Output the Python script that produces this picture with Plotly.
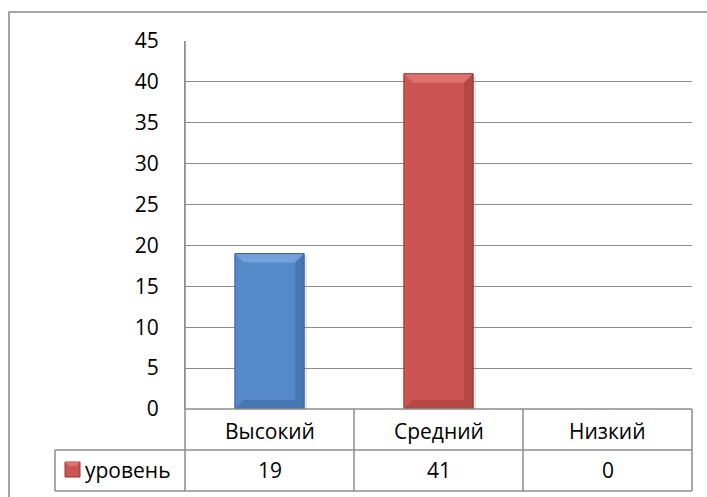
import plotly.graph_objects as go

categories = ["Высокий", "Средний", "Низкий"]
values = [19, 41, 0]
series_name = "уровень"
y_ticks = [0, 5, 10, 15, 20, 25, 30, 35, 40, 45]

W, H = 707, 497
L, R, T, B = 185, 692, 41, 409  # plot area in pixels
PW, PH = R - L, B - T

def px(xp):
    return (xp - L) / PW

def py(yp):
    return (B - yp) / PH

FONT = "Open Sans"
FS = 21
GRID = "#8C8C8C"
face = ["#5589C9", "#CC5553", "#9BBB59"]
light = ["#72A1DB", "#DC736F", "#B5D27A"]
dark = ["#4473AE", "#AE4340", "#7E9B45"]
darker = ["#385F92", "#913432", "#66803A"]

bar_w = 0.41
xs = list(range(len(categories)))

fig = go.Figure()
fig.add_trace(go.Bar(
    x=xs, y=values, width=bar_w, name=series_name,
    marker=dict(color=face[:len(values)], line=dict(width=0)),
    showlegend=False, hoverinfo="skip",
))

shapes = []
bx = 9 * 3 / PW
by = 9 * 45 / PH
for i, v in enumerate(values):
    if v <= 0:
        continue
    x0, x1 = xs[i] - bar_w / 2, xs[i] + bar_w / 2
    sdx = 3 * 3 / PW
    sdy = 3 * 45 / PH
    shapes.append(dict(type="path", xref="x", yref="y", layer="below",
                       path=f"M{x0+sdx},{-sdy} L{x1+sdx},{-sdy} L{x1+sdx},{v-sdy} L{x1},{v-sdy} L{x1},0 Z",
                       fillcolor="rgba(0,0,0,0.10)", line=dict(width=0)))
    shapes.append(dict(type="path", xref="x", yref="y",
                       path=f"M{x0},{v} L{x1},{v} L{x1-bx},{v-by} L{x0+bx},{v-by} Z",
                       fillcolor=light[i], line=dict(width=0)))
    shapes.append(dict(type="path", xref="x", yref="y",
                       path=f"M{x1},{v} L{x1-bx},{v-by} L{x1-bx},{by} L{x1},0 Z",
                       fillcolor=dark[i], opacity=0.8, line=dict(width=0)))
    shapes.append(dict(type="path", xref="x", yref="y",
                       path=f"M{x0},0 L{x1},0 L{x1-bx},{by} L{x0+bx},{by} Z",
                       fillcolor=dark[i], opacity=0.8, line=dict(width=0)))
    shapes.append(dict(type="rect", xref="x", yref="y", x0=x0, x1=x1, y0=0, y1=v,
                       fillcolor="rgba(0,0,0,0)", line=dict(color=darker[i], width=1)))

TL = dict(color=GRID, width=1.5)
shapes += [
    dict(type="line", xref="paper", yref="paper", x0=0, x1=1, y0=0, y1=0, line=TL),
    dict(type="line", xref="paper", yref="paper", x0=px(55), x1=1, y0=py(450), y1=py(450), line=TL),
    dict(type="line", xref="paper", yref="paper", x0=px(55), x1=1, y0=py(491), y1=py(491), line=TL),
    dict(type="line", xref="paper", yref="paper", x0=px(55), x1=px(55), y0=py(450), y1=py(491), line=TL),
]
for k in range(len(categories) + 1):
    xk = k / len(categories)
    shapes.append(dict(type="line", xref="paper", yref="paper", x0=xk, x1=xk,
                       y0=0, y1=py(491), line=TL))
shapes.append(dict(type="line", xref="paper", yref="paper", x0=0, x1=0, y0=0, y1=1, line=TL))
shapes.append(dict(type="rect", xref="paper", yref="paper", x0=px(9), x1=px(720), y0=py(510), y1=py(12),
                   line=dict(color="#888888", width=1.5), fillcolor="rgba(0,0,0,0)"))
shapes.append(dict(type="rect", xref="paper", yref="paper", x0=px(65), x1=px(80), y0=py(477), y1=py(462),
                   fillcolor=face[1], line=dict(color=darker[1], width=1)))
shapes.append(dict(type="path", xref="paper", yref="paper",
                   path=f"M{px(65)},{py(462)} L{px(80)},{py(462)} L{px(76)},{py(466)} L{px(69)},{py(466)} Z",
                   fillcolor=light[1], line=dict(width=0)))

annotations = []
for i, c in enumerate(categories):
    annotations.append(dict(x=xs[i], xref="x", y=py(431), yref="paper", text=c, showarrow=False,
                            font=dict(family=FONT, size=FS, color="black"), yanchor="middle"))
    annotations.append(dict(x=xs[i], xref="x", y=py(470), yref="paper", text=str(values[i]), showarrow=False,
                            font=dict(family=FONT, size=FS, color="black"), yanchor="middle"))
annotations.append(dict(x=px(83), xref="paper", y=py(470), yref="paper", text=series_name, showarrow=False,
                        xanchor="left", font=dict(family=FONT, size=FS, color="black"), yanchor="middle"))

fig.update_layout(
    width=W, height=H,
    margin=dict(l=L, r=W - R, t=T, b=H - B, pad=0),
    paper_bgcolor="white", plot_bgcolor="white",
    font=dict(family=FONT, size=FS, color="black"),
    xaxis=dict(range=[-0.5, len(categories) - 0.5], showticklabels=False, showgrid=False,
               zeroline=False, showline=False, fixedrange=True),
    yaxis=dict(range=[0, 45], tickvals=y_ticks, ticktext=[str(t) for t in y_ticks],
               showgrid=True, gridcolor=GRID, gridwidth=1, zeroline=False,
               showline=True, linecolor=GRID, linewidth=1, ticks="", ticklabelstandoff=21,
               tickfont=dict(family=FONT, size=FS, color="black"), fixedrange=True),
    shapes=shapes, annotations=annotations,
    bargap=0.59, showlegend=False,
)

fig.write_html("out.html", config={"displayModeBar": False},
               post_script="document.body.style.margin='0';document.body.style.overflow='hidden';")
